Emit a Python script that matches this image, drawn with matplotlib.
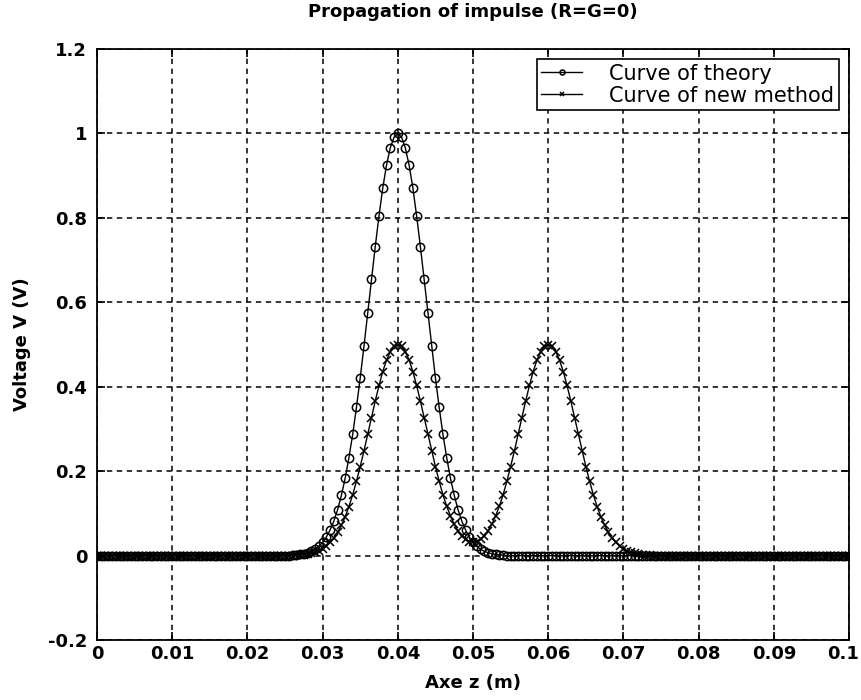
import numpy as np
import matplotlib
matplotlib.use("Agg")
import matplotlib.pyplot as plt
from matplotlib.ticker import FuncFormatter
from matplotlib.transforms import ScaledTranslation

# sampling grid along z (m), 201 samples from 0 to 0.1
z = np.linspace(0.0, 0.1, 201)

# theory curve, values (one row = 10 samples)
v_theory = [
    0, 0, 0, 0, 0, 0, 0, 0, 0, 0,
    0, 0, 0, 0, 0, 0, 0, 0, 0, 0,
    0, 0, 0, 0, 0, 0, 0, 0, 0, 0,
    0, 0, 0, 0, 0, 0, 0, 0, 0, 0,
    0, 0, 0, 0, 0, 0, 0, 0, 0, 0,
    0, 0, 0.001, 0.002, 0.003, 0.004, 0.007, 0.010, 0.015, 0.022,
    0.031, 0.044, 0.061, 0.082, 0.109, 0.143, 0.183, 0.232, 0.287, 0.351,
    0.421, 0.496, 0.575, 0.654, 0.732, 0.805, 0.871, 0.925, 0.966, 0.991,
    1.000, 0.991, 0.966, 0.925, 0.871, 0.805, 0.732, 0.654, 0.575, 0.496,
    0.421, 0.351, 0.287, 0.232, 0.183, 0.143, 0.109, 0.082, 0.061, 0.044,
    0.031, 0.022, 0.015, 0.010, 0.007, 0.004, 0.003, 0.002, 0.001, 0,
    0, 0, 0, 0, 0, 0, 0, 0, 0, 0,
    0, 0, 0, 0, 0, 0, 0, 0, 0, 0,
    0, 0, 0, 0, 0, 0, 0, 0, 0, 0,
    0, 0, 0, 0, 0, 0, 0, 0, 0, 0,
    0, 0, 0, 0, 0, 0, 0, 0, 0, 0,
    0, 0, 0, 0, 0, 0, 0, 0, 0, 0,
    0, 0, 0, 0, 0, 0, 0, 0, 0, 0,
    0, 0, 0, 0, 0, 0, 0, 0, 0, 0,
    0, 0, 0, 0, 0, 0, 0, 0, 0, 0,
    0,
]

# new method curve (two half pulses at 0.04 and 0.06)
v_new = [
    0, 0, 0, 0, 0, 0, 0, 0, 0, 0,
    0, 0, 0, 0, 0, 0, 0, 0, 0, 0,
    0, 0, 0, 0, 0, 0, 0, 0, 0, 0,
    0, 0, 0, 0, 0, 0, 0, 0, 0, 0,
    0, 0, 0, 0, 0, 0, 0, 0, 0, 0,
    0, 0, 0, 0.001, 0.002, 0.002, 0.004, 0.005, 0.008, 0.011,
    0.016, 0.022, 0.031, 0.041, 0.055, 0.072, 0.092, 0.116, 0.144, 0.176,
    0.211, 0.248, 0.288, 0.327, 0.366, 0.403, 0.436, 0.463, 0.483, 0.496,
    0.500, 0.496, 0.483, 0.463, 0.436, 0.403, 0.366, 0.327, 0.288, 0.248,
    0.211, 0.176, 0.144, 0.117, 0.094, 0.074, 0.059, 0.046, 0.039, 0.033,
    0.032, 0.033, 0.039, 0.046, 0.059, 0.074, 0.094, 0.117, 0.144, 0.176,
    0.211, 0.248, 0.288, 0.327, 0.366, 0.403, 0.436, 0.463, 0.483, 0.496,
    0.500, 0.496, 0.483, 0.463, 0.436, 0.403, 0.366, 0.327, 0.288, 0.248,
    0.211, 0.176, 0.144, 0.116, 0.092, 0.072, 0.055, 0.041, 0.031, 0.022,
    0.016, 0.011, 0.008, 0.005, 0.004, 0.002, 0.002, 0.001, 0, 0,
    0, 0, 0, 0, 0, 0, 0, 0, 0, 0,
    0, 0, 0, 0, 0, 0, 0, 0, 0, 0,
    0, 0, 0, 0, 0, 0, 0, 0, 0, 0,
    0, 0, 0, 0, 0, 0, 0, 0, 0, 0,
    0, 0, 0, 0, 0, 0, 0, 0, 0, 0,
    0,
]

x_ticks = [0, 0.01, 0.02, 0.03, 0.04, 0.05, 0.06, 0.07, 0.08, 0.09, 0.1]
y_ticks = [-0.2, 0, 0.2, 0.4, 0.6, 0.8, 1, 1.2]

plt.rcParams["font.family"] = "DejaVu Sans"

fig = plt.figure(figsize=(8.62, 7.0), dpi=100)
ax = fig.add_axes([0.1125, 0.0857, 0.8725, 0.8443])

ax.plot(z, v_theory, color="black", lw=1.0, marker="o", ms=6, mfc="none",
        mew=1.1, label="Curve of theory")
ax.plot(z, v_new, color="black", lw=1.0, marker="x", ms=6, mew=1.1,
        label="Curve of new method")

ax.set_xlim(0, 0.1)
ax.set_ylim(-0.2, 1.2)
ax.set_xticks(x_ticks)
ax.set_yticks(y_ticks)
fmt = FuncFormatter(lambda v, p: "%g" % round(v, 3))
ax.xaxis.set_major_formatter(fmt)
ax.yaxis.set_major_formatter(fmt)

ax.grid(True, color="black", linestyle=(0, (3.5, 3)), linewidth=1.1)
ax.tick_params(direction="in", length=6, width=1.2, top=True, right=True,
               labelsize=13)
ax.tick_params(axis="y", pad=7)
for lab in ax.get_xticklabels() + ax.get_yticklabels():
    lab.set_fontweight("bold")
# keep the last x label inside the figure
last = ax.get_xticklabels()[-1]
last.set_transform(last.get_transform() + ScaledTranslation(-6 / 100, 0, fig.dpi_scale_trans))
for sp in ax.spines.values():
    sp.set_linewidth(1.3)

ax.set_title("Propagation of impulse (R=G=0)", fontsize=13, fontweight="bold", pad=23)
ax.set_xlabel("Axe z (m)", fontsize=13, fontweight="bold", labelpad=8)
ax.set_ylabel("Voltage V (V)", fontsize=13, fontweight="bold", labelpad=12)

leg = ax.legend(loc="upper right", fontsize=15, handlelength=2.0, markerscale=0.6,
                fancybox=False, framealpha=1, edgecolor="black",
                borderaxespad=0.5, borderpad=0.2, labelspacing=0.1,
                handletextpad=1.3)
leg.get_frame().set_linewidth(1.2)

fig.savefig("out.png", dpi=100)
